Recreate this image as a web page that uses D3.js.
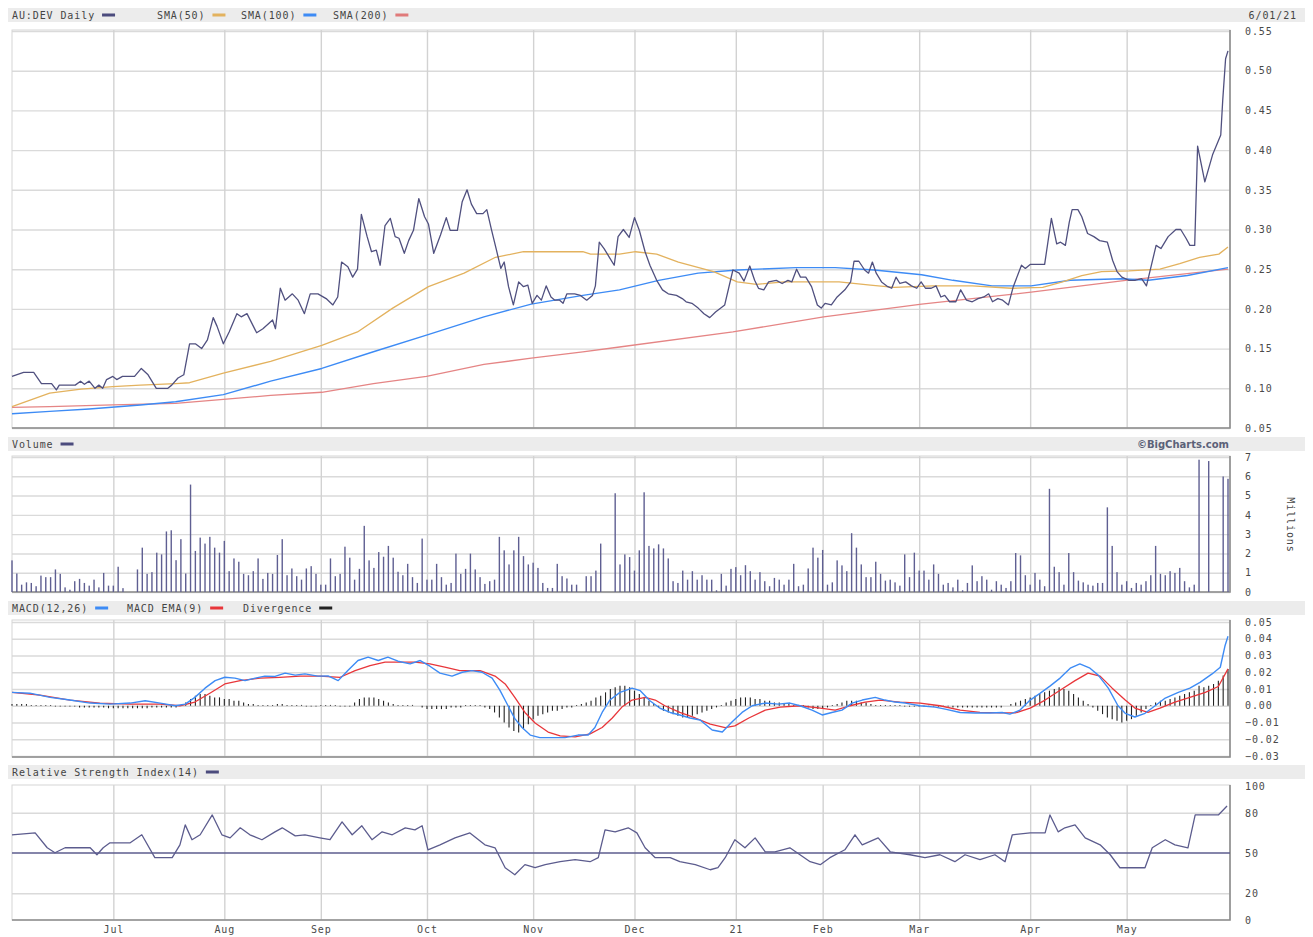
<!DOCTYPE html>
<html>
<head>
<meta charset="utf-8">
<script src="https://cdn.jsdelivr.net/npm/d3@7"></script>
<style>
body { margin: 0; background: #fff; }
text { font-family: "DejaVu Sans Mono", monospace; }
.lbl { font-size: 10px; fill: #444; letter-spacing: 0.9px; }
.axis text { font-size: 10px; fill: #4a4a4a; letter-spacing: 0.9px; }
.axis path { display: none; }
.grid line { stroke: #dadada; stroke-width: 1.4; }
.grid path { display: none; }
</style>
</head>
<body>
<svg id="chart" width="1313" height="937"></svg>
<script>
"use strict";

// x is a trading-day index, 0 = Jun 1 2020, 252 = Jun 1 2021
var monthLabels = ["Jul", "Aug", "Sep", "Oct", "Nov", "Dec", "21", "Feb", "Mar", "Apr", "May"];
var monthIdx = [21, 44, 64, 86, 108, 129, 150, 168, 188, 211, 231];

var priceTicks = [0.05, 0.10, 0.15, 0.20, 0.25, 0.30, 0.35, 0.40, 0.45, 0.50, 0.55];
var volumeTicks = [0, 1, 2, 3, 4, 5, 6, 7];
var macdTicks = [-0.03, -0.02, -0.01, 0.00, 0.01, 0.02, 0.03, 0.04, 0.05];
var rsiTicks = [0, 20, 50, 80, 100];

var price = [[0,0.115],[2.4,0.12],[4.5,0.12],[6.1,0.106],[8.2,0.106],[9.2,0.098],[9.8,0.104],[13.1,0.104],[14.2,0.109],[15,0.105],[16,0.109],[17.2,0.100],[18,0.104],[18.8,0.100],[19.6,0.111],[20.9,0.115],[21.7,0.111],[22.9,0.115],[25.4,0.115],[26.8,0.125],[28.2,0.117],[29.9,0.100],[32.3,0.100],[33.1,0.104],[34.4,0.113],[35.6,0.117],[36.8,0.156],[38,0.156],[39.3,0.150],[40.5,0.161],[41.7,0.189],[42.5,0.178],[43.8,0.156],[45,0.171],[46.6,0.194],[47.5,0.190],[48.7,0.194],[50.7,0.170],[52,0.175],[54,0.186],[54.6,0.175],[55.6,0.226],[56.6,0.211],[58.1,0.219],[59.3,0.211],[60.6,0.194],[61.8,0.219],[63.4,0.219],[65.1,0.213],[66.5,0.205],[67.5,0.215],[68.3,0.259],[69.6,0.253],[70.6,0.240],[71.6,0.250],[72.4,0.319],[73.6,0.291],[74.5,0.272],[75.5,0.274],[76.3,0.255],[77.3,0.305],[78.4,0.314],[79.4,0.291],[80.2,0.289],[81.3,0.270],[82.2,0.286],[83.2,0.299],[84.3,0.339],[85.5,0.316],[86.3,0.307],[87.4,0.270],[88.8,0.293],[90,0.315],[90.8,0.299],[92.3,0.299],[93.3,0.335],[94.3,0.350],[95.2,0.332],[96.3,0.320],[97.6,0.320],[98.4,0.325],[99.4,0.299],[100.4,0.274],[101.3,0.251],[102,0.259],[102.9,0.228],[103.9,0.205],[105,0.234],[106,0.228],[106.9,0.230],[107.8,0.207],[108.8,0.217],[109.7,0.211],[110.7,0.229],[111.7,0.215],[112.5,0.211],[113.5,0.211],[114.2,0.207],[115,0.219],[116.6,0.219],[117.8,0.217],[119.1,0.211],[120.3,0.217],[120.9,0.229],[121.7,0.284],[122.7,0.276],[123.8,0.265],[124.8,0.255],[125.6,0.291],[126.7,0.300],[127.9,0.290],[129,0.315],[130,0.299],[131.2,0.272],[132.2,0.255],[133.6,0.236],[134.8,0.224],[136,0.219],[137.7,0.217],[138.9,0.213],[139.7,0.209],[140.9,0.207],[142.2,0.201],[143.4,0.194],[144.6,0.189],[145.8,0.196],[147.7,0.205],[149.4,0.249],[150.7,0.245],[151.7,0.235],[152.9,0.254],[153.9,0.236],[154.7,0.226],[155.8,0.224],[156.8,0.234],[158.4,0.236],[159.6,0.232],[160.8,0.236],[161.6,0.234],[162.6,0.250],[163.4,0.240],[164.5,0.240],[165.7,0.228],[166.9,0.205],[167.7,0.201],[168.5,0.207],[169.8,0.205],[171,0.215],[172.6,0.224],[173.8,0.234],[174.5,0.260],[175.5,0.260],[176.7,0.249],[177.5,0.245],[178.3,0.259],[179.1,0.245],[180.2,0.234],[181.5,0.228],[182.3,0.226],[183.2,0.240],[184,0.232],[185.2,0.234],[186.4,0.229],[187.5,0.226],[188.4,0.234],[189.3,0.226],[190.5,0.226],[191.5,0.229],[192.5,0.215],[193.3,0.217],[194.3,0.209],[195.6,0.209],[196.6,0.224],[197.8,0.211],[199,0.209],[200.2,0.213],[201.4,0.215],[202.4,0.219],[203.2,0.209],[204.3,0.213],[205.3,0.211],[206.5,0.205],[207.5,0.228],[209.2,0.255],[210,0.251],[211,0.256],[214,0.256],[215.4,0.314],[216.5,0.282],[217.3,0.284],[218.3,0.280],[219.1,0.309],[219.7,0.325],[220.9,0.325],[221.7,0.316],[222.9,0.295],[224.2,0.291],[225.4,0.286],[227,0.284],[228.1,0.261],[229,0.247],[230,0.240],[231.5,0.236],[232.7,0.236],[234.1,0.238],[235.1,0.229],[236.2,0.257],[237.1,0.280],[238.1,0.276],[239.6,0.291],[241.2,0.300],[242.2,0.300],[243.3,0.289],[244.1,0.280],[245.1,0.280],[245.7,0.405],[247.2,0.360],[248.8,0.394],[250.5,0.419],[250.9,0.462],[251.5,0.515],[252,0.525]];

var sma50 = [[0,0.077],[7.8,0.094],[14.3,0.099],[20.9,0.102],[26.6,0.104],[33.9,0.106],[36.8,0.107],[43.8,0.119],[53.6,0.134],[64.2,0.154],[71.6,0.171],[78.9,0.201],[86.3,0.228],[93.7,0.245],[100.2,0.265],[106,0.272],[118.3,0.272],[119.9,0.269],[125.9,0.269],[129.2,0.272],[133.6,0.269],[138.1,0.259],[145.4,0.247],[150.3,0.234],[154.3,0.231],[160,0.234],[171.4,0.234],[177.9,0.230],[182.8,0.227],[190.9,0.229],[199,0.229],[207.1,0.226],[213.6,0.227],[217.7,0.234],[221.7,0.242],[225.8,0.247],[231.5,0.248],[237.9,0.250],[242,0.257],[246.1,0.265],[250.1,0.269],[252,0.278]];

var sma100 = [[0,0.068],[7.8,0.071],[16,0.074],[26.6,0.079],[33.9,0.083],[43.8,0.092],[53.6,0.109],[64.2,0.125],[74.9,0.146],[85.9,0.167],[97.8,0.190],[107.6,0.206],[118.3,0.217],[125.9,0.224],[134,0.236],[142.2,0.245],[150.3,0.249],[162.5,0.252],[170.6,0.252],[178.7,0.249],[188.5,0.243],[195,0.236],[203.1,0.229],[211.2,0.229],[219.3,0.236],[229.9,0.238],[235.5,0.236],[243.6,0.242],[252,0.252]];

var sma200 = [[0,0.076],[7.8,0.077],[20.9,0.079],[33.9,0.081],[43.8,0.086],[53.6,0.091],[64.2,0.095],[74.9,0.106],[85.9,0.115],[97.8,0.130],[107.6,0.138],[118.3,0.146],[125.9,0.152],[149.4,0.171],[168.2,0.190],[188.5,0.206],[211.2,0.221],[230.8,0.236],[252,0.250]];

// volume in millions, [day, value]; missing days had no bar
var volume = [[0,1.64],[1,0.96],[2,0.38],[3,0.5],[4,0.47],[5,0.3],[6,0.85],[7,0.77],[8,0.77],[9,1.17],[10,0.94],[11,0.24],[12,0.12],[13,0.56],[14,0.68],[15,0.47],[16,0.33],[17,0.64],[18,0.24],[19,0.99],[20,0.33],[21,0.33],[22,1.31],[23,0.2],[26,1.17],[27,2.3],[28,0.94],[29,1.03],[30,2.04],[31,1.95],[32,3.14],[33,3.2],[34,1.65],[35,2.74],[36,0.96],[37,5.57],[38,2.13],[39,2.82],[40,2.51],[41,2.86],[42,2.3],[43,2.04],[44,2.65],[45,1.08],[46,1.74],[47,1.57],[48,0.94],[49,0.87],[50,1.08],[51,1.74],[52,0.68],[53,0.99],[54,0.94],[55,1.92],[56,2.74],[57,0.87],[58,1.22],[59,0.82],[60,0.64],[61,1.22],[62,1.34],[63,0.94],[64,0.38],[65,0.38],[66,1.74],[67,0.82],[68,0.94],[69,2.35],[70,1.78],[71,0.64],[72,1.2],[73,3.43],[74,1.64],[75,1.25],[76,2.07],[77,1.83],[78,2.39],[79,1.78],[80,1.05],[81,0.87],[82,1.46],[83,0.77],[84,0.47],[85,2.77],[86,0.64],[87,0.64],[88,1.46],[89,0.77],[90,0.38],[91,0.47],[92,1.99],[93,0.94],[94,1.2],[95,1.99],[96,1.17],[97,0.77],[98,0.42],[99,0.56],[100,0.64],[101,2.86],[102,2.16],[103,1.43],[104,2.16],[105,2.86],[106,1.86],[107,1.43],[108,1.52],[109,1.25],[110,0.47],[111,0.21],[112,0.21],[113,1.46],[114,0.82],[115,0.7],[116,0.38],[117,0.38],[119,0.82],[120,0.82],[121,1.11],[122,2.51],[125,5.12],[126,1.43],[127,1.95],[128,1.81],[129,1.11],[130,2.16],[131,5.17],[132,2.39],[133,2.26],[134,2.47],[135,2.26],[136,1.74],[137,0.56],[138,0.47],[139,1.11],[140,0.64],[141,1.08],[142,0.64],[143,0.87],[144,0.64],[145,0.64],[146,0.09],[147,0.94],[148,0.33],[149,1.2],[150,1.29],[151,0.87],[152,1.39],[153,1.08],[154,0.64],[155,1.03],[156,0.56],[157,0.3],[158,0.73],[159,0.64],[160,0.38],[161,0.64],[162,1.46],[163,0.3],[164,0.38],[165,1.22],[166,2.3],[167,1.78],[168,2.18],[169,0.38],[170,0.5],[171,1.64],[172,1.38],[173,1.08],[174,3.05],[175,2.3],[176,1.43],[177,0.77],[178,0.77],[179,1.57],[180,0.94],[181,0.59],[182,0.64],[183,0.5],[184,0.33],[185,1.95],[186,0.77],[187,2.04],[188,1.11],[189,1.11],[190,0.64],[191,1.43],[192,0.94],[193,0.38],[194,0.47],[195,0.24],[196,0.64],[197,0.09],[198,0.47],[199,1.38],[200,0.56],[201,0.82],[202,0.64],[203,0.12],[204,0.56],[205,0.38],[206,0.21],[207,0.56],[208,2.02],[209,1.9],[210,0.87],[211,0.38],[212,0.99],[213,0.64],[214,0.3],[215,5.35],[216,1.31],[217,1.03],[218,0.38],[219,2.02],[220,1.03],[221,0.59],[222,0.5],[223,0.38],[224,0.33],[225,0.47],[226,0.47],[227,4.39],[228,2.39],[229,1.03],[230,0.38],[231,0.56],[232,0.21],[233,0.47],[234,0.38],[235,0.56],[236,0.87],[237,2.39],[238,0.94],[239,0.87],[240,1.08],[241,0.99],[242,1.25],[243,0.56],[244,0.24],[245,0.38],[246,6.86],[248,6.79],[251,5.99],[252,5.87]];

var macd = [[0,0.008],[3.7,0.0075],[7.9,0.005],[12,0.0034],[16.2,0.0016],[20.3,0.001],[24.5,0.0016],[27.6,0.003],[30.7,0.0016],[33.8,0.0],[35.9,0.001],[37.9,0.005],[40,0.0105],[42.1,0.015],[44.1,0.017],[46.2,0.0165],[48.3,0.015],[50.4,0.0165],[52.4,0.0177],[54.5,0.0175],[56.6,0.0195],[58.7,0.0183],[60.7,0.019],[63.4,0.0177],[65.5,0.0178],[67.6,0.015],[69.6,0.021],[71.7,0.027],[73.8,0.029],[75.9,0.027],[77.9,0.029],[80,0.0266],[82.5,0.025],[84.6,0.027],[86.6,0.0236],[88.7,0.0195],[91.2,0.0177],[93.3,0.020],[95.3,0.021],[97.4,0.020],[99.5,0.0165],[101.1,0.0093],[102.8,0.0],[104.2,-0.0077],[105.7,-0.013],[107.4,-0.0175],[109.4,-0.019],[111.5,-0.019],[114.6,-0.019],[117.3,-0.0175],[119.4,-0.0175],[120.8,-0.013],[122.3,-0.004],[123.9,0.0034],[126,0.008],[128.5,0.0105],[130.2,0.009],[132.2,0.003],[134.3,-0.0015],[136.4,-0.004],[138.4,-0.0055],[140.5,-0.0073],[142.6,-0.0085],[145.1,-0.0145],[147.2,-0.0157],[149.2,-0.0097],[151.3,-0.004],[153.4,0.0],[156.1,0.0016],[158.8,0.001],[161.2,0.0016],[163.3,0.0],[165.8,-0.0026],[167.9,-0.0055],[169.9,-0.004],[172,-0.0026],[174.1,0.0016],[176.2,0.0034],[178.9,0.005],[180.9,0.0034],[183,0.0022],[185.1,0.0016],[188.2,0.0],[191.3,-0.0008],[193.4,-0.002],[196.5,-0.004],[199.6,-0.0043],[202.7,-0.0043],[205.2,-0.004],[206.8,-0.005],[208.9,-0.0026],[211,0.0034],[213.1,0.0075],[215.1,0.0117],[217.2,0.0165],[219.3,0.0224],[221.3,0.025],[223.4,0.0224],[225.1,0.0183],[227.2,0.0105],[229.2,0.0],[230.7,-0.0045],[232.7,-0.0067],[234.8,-0.0045],[236.9,0.0],[239,0.0046],[241.7,0.008],[244.1,0.0105],[246.2,0.014],[248.7,0.019],[250.4,0.023],[251.4,0.036],[252,0.0415]];

var macdSignal = [[0,0.008],[5.8,0.0063],[12,0.0034],[18.2,0.0016],[24.5,0.001],[30.7,0.001],[34.8,0.0],[37.9,0.0022],[41,0.0075],[44.1,0.013],[47.3,0.015],[51.4,0.0165],[55.5,0.017],[59.7,0.0177],[63.8,0.0177],[68,0.017],[71.1,0.021],[74.2,0.024],[77.3,0.026],[80.4,0.026],[83.5,0.026],[86.6,0.025],[89.7,0.023],[92.8,0.021],[97,0.021],[100.1,0.0177],[102.2,0.013],[104.2,0.005],[106.3,-0.004],[108.4,-0.0103],[111.1,-0.0157],[113.6,-0.018],[116.7,-0.0186],[119.8,-0.0168],[122.3,-0.013],[124.4,-0.0073],[126.4,-0.0008],[128.5,0.0034],[131.2,0.005],[133.3,0.0034],[135.3,0.0],[138.4,-0.004],[141.6,-0.0073],[144.7,-0.011],[147.8,-0.013],[149.8,-0.012],[152.7,-0.0073],[156.1,-0.0026],[159.2,-0.0008],[163.3,0.0],[167.5,-0.0014],[170.6,-0.0026],[173.7,0.0],[176.8,0.0022],[179.9,0.0034],[184,0.0022],[188.2,0.0016],[192.3,0.0],[196.5,-0.0026],[200.6,-0.004],[204.8,-0.0043],[207.9,-0.0043],[211,-0.0014],[214.1,0.0034],[217.2,0.0093],[220.3,0.015],[223,0.0195],[225.5,0.0177],[228,0.0105],[230.7,0.0034],[232.7,-0.0014],[235.4,-0.004],[237.9,-0.0014],[241,0.0022],[244.1,0.005],[247.3,0.008],[250,0.0115],[252,0.022]];

// MACD minus EMA, one bar per trading day
var divergence = [0.001,0.001,0.001,0.001,0.0005,0.0005,0.0005,0.0005,0.0005,-0.0005,-0.0005,-0.0005,-0.0005,-0.0005,-0.001,-0.001,-0.001,-0.001,-0.001,-0.001,-0.0015,-0.0015,-0.0015,-0.0015,-0.0015,-0.0015,-0.0015,-0.0015,-0.0015,-0.001,-0.001,-0.001,-0.001,-0.001,-0.001,0.0,0.002,0.004,0.006,0.007,0.007,0.006,0.005,0.005,0.004,0.004,0.003,0.003,0.002,0.001,0.001,0.0005,0.0005,0.0005,0.0005,0.001,0.001,0.0005,0.0005,0.0005,0.0005,-0.0005,-0.0005,-0.0005,0.0005,0.0005,0.0005,0.0005,-0.0005,-0.0005,-0.0005,0.002,0.004,0.005,0.005,0.005,0.004,0.003,0.002,0.001,0.0005,0.0005,0.0005,0.0005,0.0,-0.001,-0.002,-0.002,-0.002,-0.002,-0.002,-0.001,-0.001,-0.001,0.0005,0.0005,0.0005,0.0005,-0.001,-0.002,-0.004,-0.007,-0.010,-0.013,-0.015,-0.016,-0.014,-0.011,-0.008,-0.006,-0.005,-0.004,-0.003,-0.003,-0.002,-0.001,-0.001,0.0005,0.001,0.002,0.003,0.005,0.006,0.008,0.010,0.011,0.012,0.012,0.011,0.009,0.007,0.005,0.003,0.001,-0.001,-0.003,-0.004,-0.005,-0.006,-0.007,-0.007,-0.006,-0.005,-0.004,-0.003,-0.002,-0.001,0.0005,0.002,0.003,0.004,0.005,0.005,0.005,0.004,0.004,0.003,0.003,0.002,0.002,0.001,0.001,0.0005,0.0005,0.0005,-0.001,-0.002,-0.002,-0.002,-0.001,0.0005,0.001,0.002,0.003,0.003,0.003,0.002,0.002,0.001,0.0005,0.0005,0.0005,0.0005,0.0005,0.0005,-0.0005,-0.0005,-0.0005,-0.0005,-0.0005,-0.0005,-0.0005,-0.0005,-0.0005,-0.0005,-0.001,-0.001,-0.001,-0.001,-0.001,-0.001,-0.001,-0.001,-0.001,-0.001,-0.001,0.0,0.001,0.002,0.003,0.004,0.005,0.006,0.007,0.008,0.009,0.010,0.011,0.010,0.009,0.007,0.005,0.003,0.001,-0.001,-0.003,-0.005,-0.007,-0.008,-0.009,-0.010,-0.009,-0.008,-0.006,-0.004,-0.002,0.0005,0.002,0.003,0.003,0.004,0.005,0.006,0.007,0.008,0.009,0.012,0.011,0.012,0.013,0.015,0.018,0.022];

var rsi = [[0,63.6],[4.8,65],[7.3,53.9],[8.9,50.2],[11,53.9],[16.2,53.9],[17.6,48.7],[18.9,53.9],[20.3,57.6],[24.5,57.6],[26.9,63.6],[29.6,46.5],[33.2,46.5],[34.8,56.1],[35.9,71],[37.3,59.9],[39,63.6],[41.5,78.4],[43.5,63.6],[45.2,61.3],[47.3,68.8],[49.3,63.6],[51.8,59.9],[54.5,65.8],[56,68.8],[58.7,62.8],[60.7,63.6],[63.8,61.3],[65.9,59.9],[68.4,73.2],[70.5,63.6],[72.5,70.3],[74.6,59.9],[76.7,65.8],[78.8,63.6],[81.5,68.8],[83.5,67.3],[85,70.3],[86.2,52.4],[88.7,56.1],[91.8,61.3],[94.9,65],[98,56.1],[100.1,53.9],[102.2,39],[104.2,33.8],[106.3,41.3],[108.4,39],[110.5,41.3],[113.6,43.5],[116.7,45],[119.8,43.5],[121.5,46.5],[122.9,67.3],[125,65.8],[127.7,68.8],[129.5,65],[131.2,53.9],[133.3,46.5],[136.4,46.5],[138.4,43.5],[141.6,41.3],[144.7,37.5],[146.3,39],[147.8,46.5],[149.8,59.9],[151.9,53.9],[154,61.3],[156.1,50.9],[158.1,50.9],[161.2,53.9],[163.3,48.7],[165.4,43.5],[167.5,41.3],[169.5,46.5],[172.6,52.4],[174.7,63.6],[176.2,56.1],[179.5,61.3],[182,50.9],[186.1,48.7],[189.2,46.5],[192.3,48.7],[195.4,43.5],[197.5,48.7],[200.6,45],[203.7,48.7],[205.8,43.5],[207.3,63.6],[211,65],[214.1,65],[215.1,78.4],[216.8,65.8],[218.2,68.8],[220.3,71],[222.4,61.3],[225.5,56.1],[227.6,48.7],[229.6,39],[232.7,39],[234.8,39],[236.3,53.9],[239,59.9],[241,56.1],[243.7,53.9],[245.2,78.4],[250,78.4],[251.8,85.1]];

var svg = d3.select("#chart");
var plotL = 12, plotR = 1230;
var x = d3.scaleLinear().domain([0, 252]).range([12, 1228]);

var yPrice = d3.scaleLinear().domain([0.05, 0.55]).range([428, 31]);
var yVol = d3.scaleLinear().domain([0, 7]).range([592, 457]);
var yMacd = d3.scaleLinear().domain([-0.03, 0.05]).range([756, 622]);
var yRsi = d3.scaleLinear().domain([0, 100]).range([920, 786]);

// grey title strip with legend entries
function drawHeader(y0, items, rightText, rightBold) {
	svg.append("rect")
	   .attr("x", 8).attr("y", y0)
	   .attr("width", 1297).attr("height", 14)
	   .attr("fill", "#ececec");
	items.forEach(function(it) {
		var t = svg.append("text")
		           .attr("class", "lbl")
		           .attr("x", it.x).attr("y", y0 + 10.5)
		           .text(it.text);
		if (it.color) {
			var w = t.node().getComputedTextLength();
			svg.append("line")
			   .attr("x1", it.x + w + 7).attr("x2", it.x + w + 20)
			   .attr("y1", y0 + 7).attr("y2", y0 + 7)
			   .attr("stroke", it.color).attr("stroke-width", 3);
		}
	});
	if (rightText) {
		svg.append("text")
		   .attr("x", rightBold ? 1229 : 1297).attr("y", y0 + 10.5)
		   .attr("text-anchor", "end")
		   .attr("class", rightBold ? "" : "lbl")
		   .style("font-family", rightBold ? "Verdana, 'DejaVu Sans', sans-serif" : null)
		   .style("font-weight", rightBold ? "bold" : null)
		   .style("font-size", rightBold ? "10px" : null)
		   .style("fill", rightBold ? "#5b6178" : null)
		   .text(rightText);
	}
}

// grid, frame and right axis for one panel
function drawPanel(top, bottom, y, ticks, fmt, gridTicks) {
	var g = svg.append("g");
	g.append("g")
	 .attr("class", "grid")
	 .attr("transform", "translate(" + plotL + ",0)")
	 .call(d3.axisLeft(y).tickValues(gridTicks || ticks).tickSize(-(plotR - plotL)).tickFormat(""));
	g.append("g")
	 .attr("class", "grid")
	 .attr("transform", "translate(0," + bottom + ")")
	 .call(d3.axisBottom(x).tickValues(monthIdx).tickSize(-(bottom - top)).tickFormat(""))
	 .selectAll("line").style("stroke", "#d2d2d2");
	g.append("rect")
	 .attr("x", plotL).attr("y", top)
	 .attr("width", plotR - plotL).attr("height", bottom - top)
	 .attr("fill", "none").attr("stroke", "#d6d6d6");
	g.append("path")
	 .attr("d", "M" + plotL + "," + bottom + "H" + plotR + "V" + top)
	 .attr("fill", "none").attr("stroke", "#8c8c8c").attr("stroke-width", 1.6);
	g.append("g")
	 .attr("class", "axis")
	 .attr("transform", "translate(1240,0)")
	 .call(d3.axisRight(y).tickValues(ticks).tickSize(0).tickPadding(5).tickFormat(fmt));
	return g;
}

function drawLine(data, y, color, width) {
	svg.append("path")
	   .datum(data)
	   .attr("fill", "none")
	   .attr("stroke", color)
	   .attr("stroke-width", width)
	   .attr("stroke-linejoin", "round")
	   .attr("d", d3.line().x(function(d) { return x(d[0]); }).y(function(d) { return y(d[1]); }));
}

// ---- price panel
drawHeader(8, [
	{text: "AU:DEV Daily", x: 12, color: "#4b4b7d"},
	{text: "SMA(50)", x: 157, color: "#e3b25e"},
	{text: "SMA(100)", x: 241, color: "#3d8bf5"},
	{text: "SMA(200)", x: 333, color: "#e07a7a"}
], "6/01/21", false);
drawPanel(30, 428, yPrice, priceTicks, d3.format(".2f"));
drawLine(sma200, yPrice, "#e58585", 1.3);
drawLine(sma100, yPrice, "#3d8bf5", 1.4);
drawLine(sma50, yPrice, "#e3b25e", 1.3);
drawLine(price, yPrice, "#50507f", 1.3);

// ---- volume panel
drawHeader(437, [{text: "Volume", x: 12, color: "#4b4b7d"}], "\u00a9BigCharts.com", true);
drawPanel(456, 592, yVol, volumeTicks, d3.format("d"));
svg.append("g")
   .selectAll("rect").data(volume).enter()
   .append("rect")
   .attr("x", function(d) { return x(d[0]) - 0.7; })
   .attr("width", 1.4)
   .attr("y", function(d) { return yVol(d[1]); })
   .attr("height", function(d) { return yVol(0) - yVol(d[1]); })
   .attr("fill", "#5f5f92");
svg.append("text")
   .attr("class", "lbl")
   .attr("transform", "translate(1287,525) rotate(90)")
   .attr("text-anchor", "middle")
   .text("Millions");

// ---- MACD panel
drawHeader(601, [
	{text: "MACD(12,26)", x: 12, color: "#3d8bf5"},
	{text: "MACD EMA(9)", x: 127, color: "#e8363a"},
	{text: "Divergence", x: 243, color: "#222"}
]);
drawPanel(620, 757, yMacd, macdTicks, d3.format(".2f"));
svg.append("g")
   .selectAll("line").data(divergence).enter()
   .append("line")
   .attr("x1", function(d, i) { return x(i); })
   .attr("x2", function(d, i) { return x(i); })
   .attr("y1", yMacd(0))
   .attr("y2", function(d) { return yMacd(d); })
   .attr("stroke", "#222").attr("stroke-width", 1.1);
drawLine(macdSignal, yMacd, "#e8363a", 1.3);
drawLine(macd, yMacd, "#3d8bf5", 1.4);

// ---- RSI panel
drawHeader(765, [{text: "Relative Strength Index(14)", x: 12, color: "#4b4b7d"}]);
drawPanel(785, 920, yRsi, rsiTicks, d3.format("d"), [20, 80]);
svg.append("line")
   .attr("x1", plotL).attr("x2", plotR)
   .attr("y1", yRsi(50)).attr("y2", yRsi(50))
   .attr("stroke", "#5c5c8e").attr("stroke-width", 1.3);
drawLine(rsi, yRsi, "#5c5c8e", 1.3);

// month labels under the last panel
svg.append("g")
   .attr("class", "axis")
   .attr("transform", "translate(0,921)")
   .call(d3.axisBottom(x).tickValues(monthIdx).tickSize(0).tickPadding(5)
          .tickFormat(function(d, i) { return monthLabels[i]; }));
</script>
</body>
</html>
